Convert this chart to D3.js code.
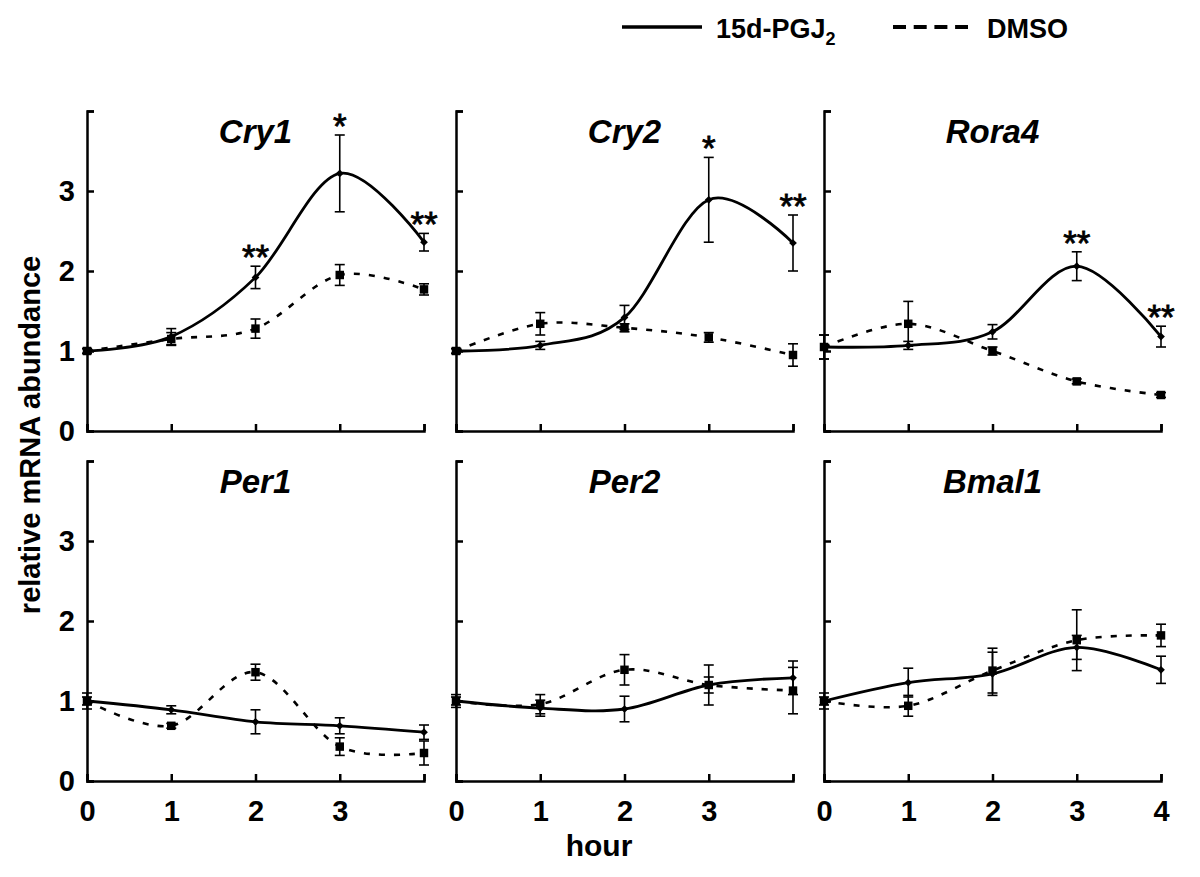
<!DOCTYPE html>
<html><head><meta charset="utf-8">
<script src="https://cdn.jsdelivr.net/npm/d3@7"></script>
<style>
body{margin:0;background:#fff}
svg{display:block}
text{font-family:"Liberation Sans",Arial,Helvetica,sans-serif;fill:#000}
</style>
</head><body>
<svg id="chart" width="1200" height="877"></svg>
<script>
// ---------- data ----------
const hours = [0, 1, 2, 3, 4];
const yTicks = [0, 1, 2, 3, 4];
const yTickLabels = ["0", "1", "2", "3", ""];
const xTickLabelsShort = ["0", "1", "2", "3", ""];
const xTickLabelsFull = ["0", "1", "2", "3", "4"];
const geneNames = ["Cry1", "Cry2", "Rora4", "Per1", "Per2", "Bmal1"];
const seriesNames = ["15d-PGJ", "DMSO"];
const xAxisTitle = "hour";
const yAxisTitle = "relative mRNA abundance";

const cry1PGJ = [1.0, 1.18, 1.92, 3.22, 2.36];
const cry1PGJErr = [0.03, 0.10, 0.14, 0.48, 0.11];
const cry1DMSO = [1.0, 1.15, 1.28, 1.95, 1.77];
const cry1DMSOErr = [0.03, 0.08, 0.12, 0.13, 0.07];
const cry1Sig = ["", "", "**", "*", "**"];

const cry2PGJ = [1.0, 1.07, 1.42, 2.89, 2.35];
const cry2PGJErr = [0.03, 0.05, 0.15, 0.53, 0.35];
const cry2DMSO = [1.0, 1.34, 1.29, 1.17, 0.95];
const cry2DMSOErr = [0.03, 0.14, 0.05, 0.06, 0.14];
const cry2Sig = ["", "", "", "*", "**"];

const rora4PGJ = [1.05, 1.07, 1.24, 2.06, 1.18];
const rora4PGJErr = [0.15, 0.05, 0.09, 0.18, 0.13];
const rora4DMSO = [1.05, 1.34, 1.0, 0.62, 0.45];
const rora4DMSOErr = [0.15, 0.28, 0.05, 0.03, 0.03];
const rora4Sig = ["", "", "", "**", "**"];

const per1PGJ = [1.0, 0.89, 0.74, 0.69, 0.61];
const per1PGJErr = [0.05, 0.05, 0.15, 0.10, 0.09];
const per1DMSO = [1.0, 0.69, 1.36, 0.43, 0.35];
const per1DMSOErr = [0.10, 0.03, 0.10, 0.11, 0.15];
const per1Sig = ["", "", "", "", ""];

const per2PGJ = [1.0, 0.91, 0.90, 1.20, 1.29];
const per2PGJErr = [0.05, 0.10, 0.16, 0.25, 0.21];
const per2DMSO = [1.0, 0.96, 1.39, 1.20, 1.13];
const per2DMSOErr = [0.08, 0.12, 0.19, 0.10, 0.29];
const per2Sig = ["", "", "", "", ""];

const bmal1PGJ = [1.0, 1.23, 1.34, 1.67, 1.39];
const bmal1PGJErr = [0.05, 0.18, 0.27, 0.15, 0.17];
const bmal1DMSO = [1.0, 0.94, 1.38, 1.76, 1.82];
const bmal1DMSOErr = [0.10, 0.13, 0.28, 0.38, 0.14];
const bmal1Sig = ["", "", "", "", ""];

const panels = [
  {name: geneNames[0], pgj: cry1PGJ, pgjErr: cry1PGJErr, dmso: cry1DMSO, dmsoErr: cry1DMSOErr, sig: cry1Sig},
  {name: geneNames[1], pgj: cry2PGJ, pgjErr: cry2PGJErr, dmso: cry2DMSO, dmsoErr: cry2DMSOErr, sig: cry2Sig},
  {name: geneNames[2], pgj: rora4PGJ, pgjErr: rora4PGJErr, dmso: rora4DMSO, dmsoErr: rora4DMSOErr, sig: rora4Sig},
  {name: geneNames[3], pgj: per1PGJ, pgjErr: per1PGJErr, dmso: per1DMSO, dmsoErr: per1DMSOErr, sig: per1Sig},
  {name: geneNames[4], pgj: per2PGJ, pgjErr: per2PGJErr, dmso: per2DMSO, dmsoErr: per2DMSOErr, sig: per2Sig},
  {name: geneNames[5], pgj: bmal1PGJ, pgjErr: bmal1PGJErr, dmso: bmal1DMSO, dmsoErr: bmal1DMSOErr, sig: bmal1Sig}
];

// ---------- layout ----------
const svg = d3.select("#chart");
const colX = [87, 456, 824];
const rowY = [111, 461];
const pw = 337, ph = 320;

const x = d3.scaleLinear().domain([0, 4]).range([0, pw]);
const y = d3.scaleLinear().domain([0, 4]).range([ph, 0]);
const line = d3.line().x((d, i) => x(hours[i])).y(d => y(d)).curve(d3.curveCardinal.tension(0));

panels.forEach((p, k) => {
  const col = k % 3, row = Math.floor(k / 3);
  const g = svg.append("g").attr("transform", `translate(${colX[col]},${rowY[row]})`);

  // axes
  const ya = d3.axisLeft(y).tickValues(yTicks).tickSize(-7).tickPadding(12)
    .tickFormat((d, i) => col === 0 ? yTickLabels[i] : "");
  const yg = g.append("g").call(ya);
  const xa = d3.axisBottom(x).tickValues(hours).tickSize(-7).tickPadding(19)
    .tickFormat((d, i) => row === 1 ? (col === 2 ? xTickLabelsFull[i] : xTickLabelsShort[i]) : "");
  const xg = g.append("g").attr("transform", `translate(0,${ph})`).call(xa);
  [yg, xg].forEach(a => {
    a.selectAll("path,line").attr("stroke", "#000").attr("stroke-width", 2.5);
    a.selectAll("text").attr("font-size", 29).attr("font-weight", "bold").attr("fill", "#000");
  });

  // title
  g.append("text").attr("x", pw / 2).attr("y", 32).attr("text-anchor", "middle")
    .attr("font-size", 33).attr("font-weight", "bold").attr("font-style", "italic").text(p.name);

  // error bars
  const eb = (vals, errs) => {
    hours.forEach((h, i) => {
      const cx = x(h), t = y(vals[i] + errs[i]), b = y(vals[i] - errs[i]);
      const e = g.append("g").attr("stroke", "#000").attr("stroke-width", 1.6);
      e.append("line").attr("x1", cx).attr("x2", cx).attr("y1", t).attr("y2", b);
      e.append("line").attr("x1", cx - 5).attr("x2", cx + 5).attr("y1", t).attr("y2", t);
      e.append("line").attr("x1", cx - 5).attr("x2", cx + 5).attr("y1", b).attr("y2", b);
    });
  };
  eb(p.dmso, p.dmsoErr);
  eb(p.pgj, p.pgjErr);

  // lines
  g.append("path").datum(p.dmso).attr("d", line).attr("fill", "none")
    .attr("stroke", "#000").attr("stroke-width", 2.6).attr("stroke-dasharray", "6,9");
  g.append("path").datum(p.pgj).attr("d", line).attr("fill", "none")
    .attr("stroke", "#000").attr("stroke-width", 2.8);

  // markers
  const sq = d3.symbol(d3.symbolSquare, 72)();
  const dia = d3.symbol(d3.symbolSquare, 30)();
  g.selectAll(".sq").data(p.dmso).enter().append("path").attr("d", sq)
    .attr("transform", (d, i) => `translate(${x(hours[i])},${y(d)})`).attr("fill", "#000");
  g.selectAll(".dia").data(p.pgj).enter().append("path").attr("d", dia)
    .attr("transform", (d, i) => `translate(${x(hours[i])},${y(d)}) rotate(45)`).attr("fill", "#000");

  // significance
  p.sig.forEach((s, i) => {
    if (!s) return;
    const top = y(p.pgj[i] + p.pgjErr[i]);
    g.append("text").attr("x", x(hours[i])).attr("y", top + 3)
      .attr("text-anchor", "middle").attr("font-size", 35).attr("stroke", "#000").attr("stroke-width", 0.8).text(s);
  });
});

// axis titles
svg.append("text").attr("x", 599).attr("y", 856).attr("text-anchor", "middle")
  .attr("font-size", 30).attr("font-weight", "bold").text(xAxisTitle);
svg.append("text").attr("transform", "translate(40,435) rotate(-90)").attr("text-anchor", "middle")
  .attr("font-size", 29).attr("font-weight", "bold").text(yAxisTitle);

// legend
const lg = svg.append("g");
lg.append("line").attr("x1", 622).attr("x2", 702).attr("y1", 27).attr("y2", 27)
  .attr("stroke", "#000").attr("stroke-width", 3.5);
const t1 = lg.append("text").attr("x", 716).attr("y", 38).attr("font-size", 27).attr("font-weight", "bold");
t1.append("tspan").text(seriesNames[0]);
t1.append("tspan").attr("font-size", 18).attr("dy", 7).text("2");
lg.append("line").attr("x1", 893).attr("x2", 968).attr("y1", 27).attr("y2", 27)
  .attr("stroke", "#000").attr("stroke-width", 4).attr("stroke-dasharray", "13,7.7");
lg.append("text").attr("x", 987).attr("y", 38).attr("font-size", 27).attr("font-weight", "bold").text(seriesNames[1]);
</script>
</body></html>
